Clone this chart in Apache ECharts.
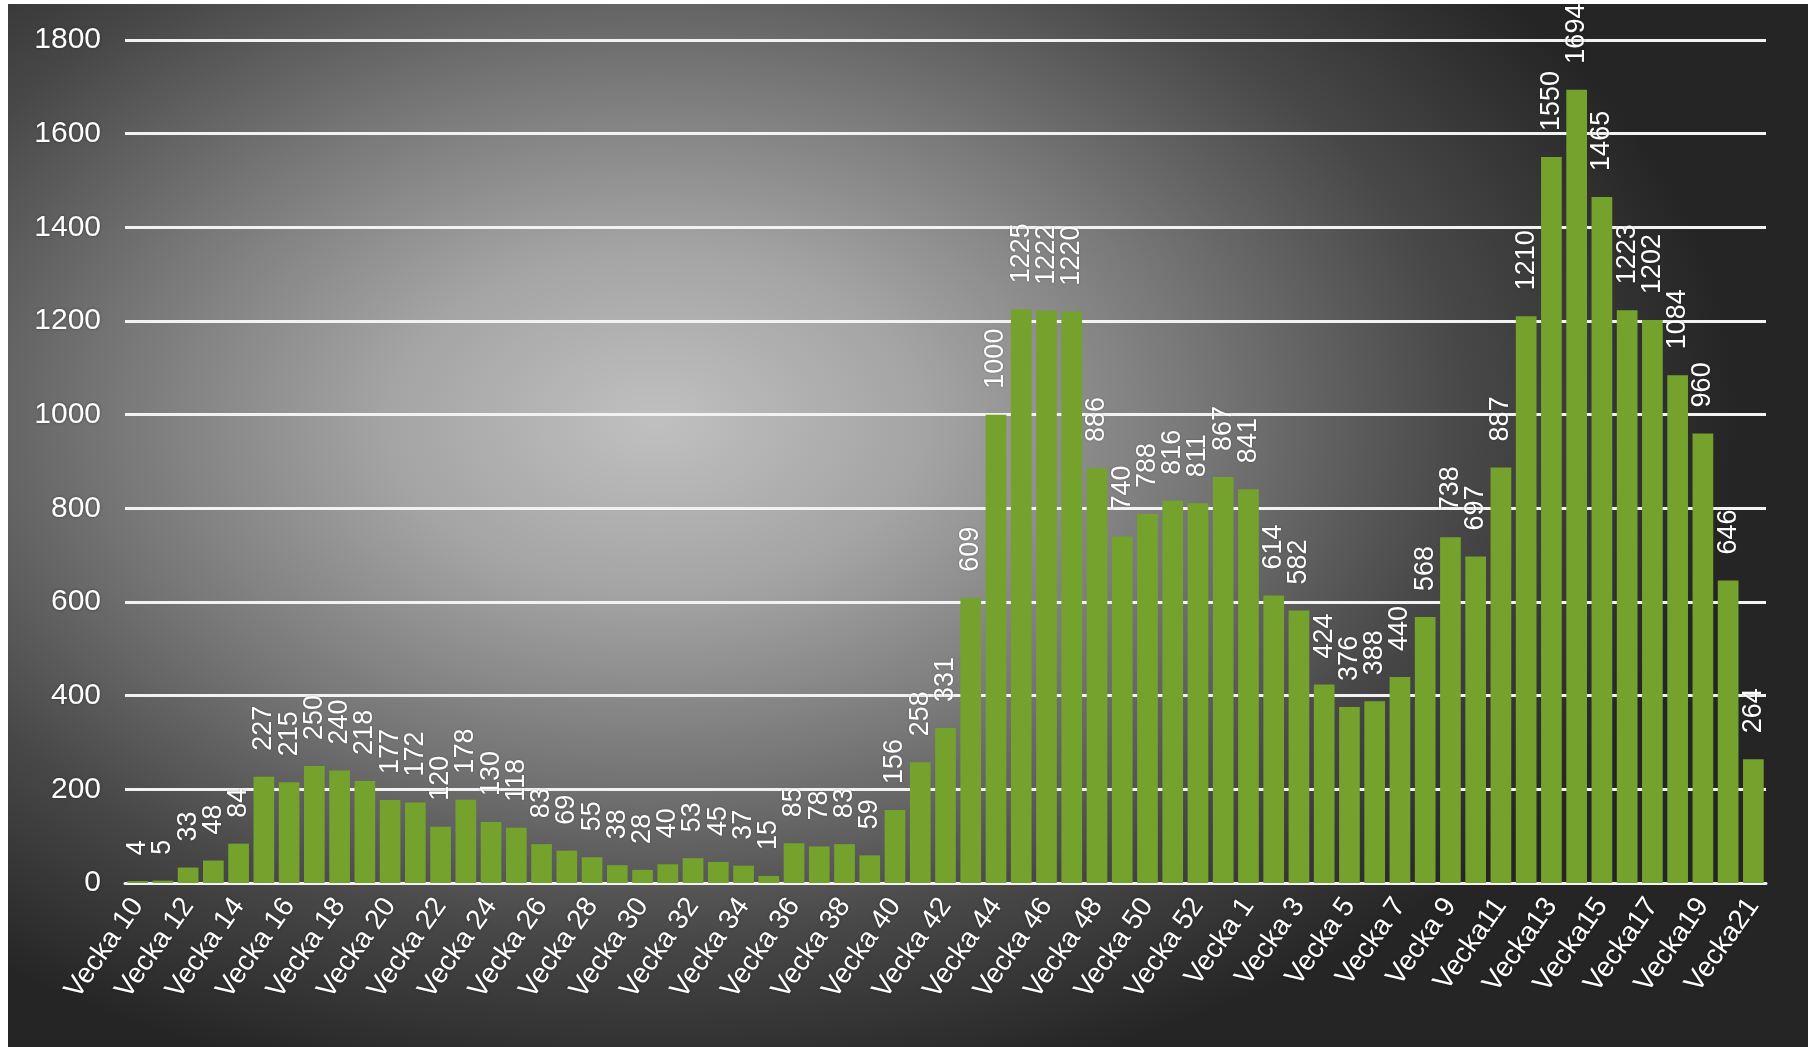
<!DOCTYPE html>
<html>
<head>
<meta charset="utf-8">
<script src="https://cdn.jsdelivr.net/npm/echarts@6/dist/echarts.min.js"></script>
<style>
  html, body { margin: 0; padding: 0; background: #ffffff; width: 1808px; height: 1047px; overflow: hidden; }
  #chart {
    position: absolute; left: 8px; top: 4px; width: 1800px; height: 1043px;
    background: radial-gradient(ellipse 60% 66% at 36% 40%, #c0c0c0 0%, #a4a4a4 25%, #787878 50%, #484848 75%, #252525 100%);
  }
</style>
</head>
<body>
<div id="chart"></div>
<script>
const categories = [
  'Vecka 10','Vecka 11','Vecka 12','Vecka 13','Vecka 14','Vecka 15','Vecka 16','Vecka 17','Vecka 18','Vecka 19',
  'Vecka 20','Vecka 21','Vecka 22','Vecka 23','Vecka 24','Vecka 25','Vecka 26','Vecka 27','Vecka 28','Vecka 29',
  'Vecka 30','Vecka 31','Vecka 32','Vecka 33','Vecka 34','Vecka 35','Vecka 36','Vecka 37','Vecka 38','Vecka 39',
  'Vecka 40','Vecka 41','Vecka 42','Vecka 43','Vecka 44','Vecka 45','Vecka 46','Vecka 47','Vecka 48','Vecka 49',
  'Vecka 50','Vecka 51','Vecka 52','Vecka 53',
  'Vecka 1','Vecka 2','Vecka 3','Vecka 4','Vecka 5','Vecka 6','Vecka 7','Vecka 8','Vecka 9',
  'Vecka10','Vecka11','Vecka12','Vecka13','Vecka14','Vecka15','Vecka16','Vecka17','Vecka18','Vecka19','Vecka20','Vecka21'
];
const values2020 = [
  4, 5, 33, 48, 84, 227, 215, 250, 240, 218,
  177, 172, 120, 178, 130, 118, 83, 69, 55, 38,
  28, 40, 53, 45, 37, 15, 85, 78, 83, 59,
  156, 258, 331, 609, 1000, 1225, 1222, 1220, 886, 740,
  788, 816, 811, 867
];
const values2021 = [
  841, 614, 582, 424, 376, 388, 440, 568, 738,
  697, 887, 1210, 1550, 1694, 1465, 1223, 1202, 1084, 960, 646, 264
];
const yTicks = [0, 200, 400, 600, 800, 1000, 1200, 1400, 1600, 1800];

const values = values2020.concat(values2021);
const chart = echarts.init(document.getElementById('chart'), null, { renderer: 'canvas' });
const textFont = '"Liberation Sans", Arial, sans-serif';
chart.setOption({
  backgroundColor: 'transparent',
  animation: false,
  grid: { left: 117, right: 42, top: 36, bottom: 164, containLabel: false },
  xAxis: {
    type: 'category',
    data: categories,
    axisTick: { show: false },
    axisLine: { show: true, lineStyle: { color: '#f2f2f2', width: 3 } },
    axisLabel: {
      interval: 1, rotate: 55, color: '#ffffff', fontSize: 28, fontFamily: textFont,
      margin: 18, textShadowColor: 'rgba(0,0,0,0.45)', textShadowBlur: 3
    }
  },
  yAxis: {
    type: 'value',
    min: yTicks[0], max: yTicks[yTicks.length - 1], interval: yTicks[1] - yTicks[0],
    axisLine: { show: false },
    axisTick: { show: false },
    splitLine: { show: true, lineStyle: { color: '#f2f2f2', width: 3 } },
    axisLabel: {
      color: '#ffffff', fontSize: 30, fontFamily: textFont, margin: 24,
      formatter: function (v) { return String(v); },
      textShadowColor: 'rgba(0,0,0,0.45)', textShadowBlur: 3
    }
  },
  series: [{
    type: 'bar',
    data: values,
    barCategoryGap: '18%',
    itemStyle: { color: '#74a22d' },
    label: {
      show: true, position: 'top', rotate: 90, align: 'left', verticalAlign: 'middle',
      distance: 26, color: '#ffffff', fontSize: 27, fontFamily: textFont,
      textShadowColor: 'rgba(0,0,0,0.35)', textShadowBlur: 2
    }
  }]
});
</script>
</body>
</html>
